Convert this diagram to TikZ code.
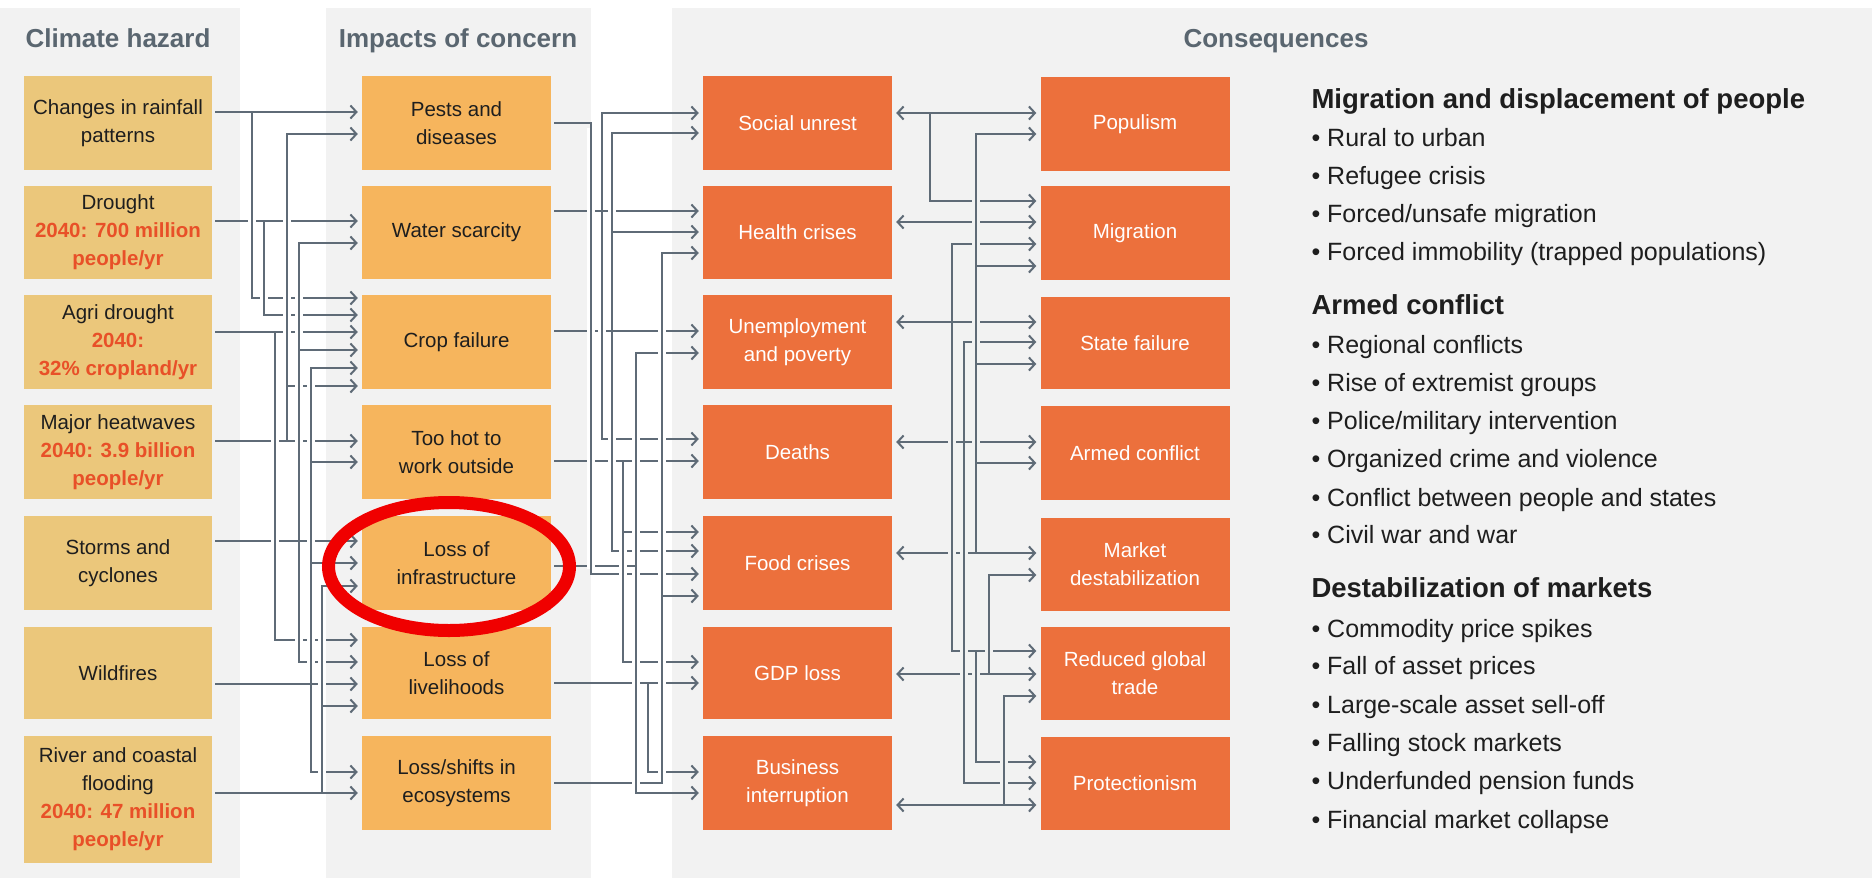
\documentclass[tikz,border=0pt]{standalone}
\usepackage{fontspec}
\setmainfont{Liberation Sans}
\usetikzlibrary{arrows.meta}
\definecolor{wirec}{HTML}{5F6B77}
\definecolor{panel}{HTML}{F2F2F2}
\definecolor{hazc}{HTML}{EBC77B}
\definecolor{impc}{HTML}{F6B55D}
\definecolor{conc}{HTML}{EC703C}
\definecolor{redtxt}{HTML}{E85028}
\definecolor{titlec}{HTML}{5A6670}
\definecolor{ringc}{HTML}{F00000}
\definecolor{bodytxt}{HTML}{1E1E1E}
\newcommand\hl[1]{{\color{redtxt}\bfseries #1}}
\newcommand\cutlane[3]{\foreach \ya/\yb in {#3}{\draw[halo=#1] (#2,\ya) -- (#2,\yb); \draw[wire] (#2,\ya) -- (#2,\yb);}}
\tikzset{
  box/.style={rectangle, inner sep=0pt, align=center, font=\fontsize{20.5}{28}\selectfont},
  haz/.style={box, fill=hazc, text=bodytxt, minimum width=188pt, minimum height=#1},
  haz/.default=94pt,
  imp/.style={box, fill=impc, text=bodytxt, minimum width=189pt, minimum height=#1},
  imp/.default=94pt,
  con/.style={box, fill=conc, text=white, minimum width=189pt, minimum height=#1},
  con/.default=94pt,
  coltitle/.style={anchor=base, text=titlec, font=\fontsize{26}{30}\selectfont\bfseries},
  listhead/.style={anchor=base west, text=bodytxt, font=\fontsize{27.5}{32}\selectfont\bfseries},
  listitem/.style={anchor=base west, text=bodytxt, font=\fontsize{25}{30}\selectfont},
  wire/.style={draw=wirec, line width=2pt},
  arr/.style={wire, -{Straight Barb[length=6pt,width=13pt]}, shorten <=3pt, shorten >=4pt},
  br/.style={arr, shorten <=14pt},
  darr/.style={wire, {Straight Barb[length=6pt,width=13pt]}-{Straight Barb[length=6pt,width=13pt]}, shorten <=4pt, shorten >=4pt},
  halo/.style={draw=#1, line width=8pt, shorten <=5pt, shorten >=5pt},
}
\begin{document}
\begin{tikzpicture}[x=1pt,y=-1pt]
\useasboundingbox (0,0) rectangle (1872,878);
\fill[white] (0,0) rectangle (1872,878);
% panels
\fill[panel] (0,8) rectangle (240,878);
\fill[panel] (326,8) rectangle (591,878);
\fill[panel] (672,8) rectangle (1872,878);
% titles
\node[coltitle] (t1) at (118,47.5) {Climate hazard};
\node[coltitle] (t2) at (458,47.5) {Impacts of concern};
\node[coltitle] (t3) at (1276,47.5) {Consequences};
% hazards
\node[haz] (h1) at (118,123) {Changes in rainfall\\patterns};
\node[haz=93pt] (h2) at (118,232.5) {Drought\\\hl{2040: 700 million}\\\hl{people/yr}};
\node[haz] (h3) at (118,342) {Agri drought\\\hl{2040:}\\\hl{32\% cropland/yr}};
\node[haz] (h4) at (118,452) {Major heatwaves\\\hl{2040: 3.9 billion}\\\hl{people/yr}};
\node[haz] (h5) at (118,563) {Storms and\\cyclones};
\node[haz=92pt] (h6) at (118,673) {Wildfires};
\node[haz=127pt] (h7) at (118,799.5) {River and coastal\\flooding\\\hl{2040: 47 million}\\\hl{people/yr}};
% impacts
\node[imp] (i1) at (456.5,123) {Pests and\\diseases};
\node[imp=93pt] (i2) at (456.5,232.5) {Water scarcity};
\node[imp] (i3) at (456.5,342) {Crop failure};
\node[imp] (i4) at (456.5,452) {Too hot to\\work outside};
\node[imp] (i5) at (456.5,563) {Loss of\\infrastructure};
\node[imp=92pt] (i6) at (456.5,673) {Loss of\\livelihoods};
\node[imp] (i7) at (456.5,783) {Loss/shifts in\\ecosystems};
% consequences, first column
\node[con] (c1) at (797.5,123) {Social unrest};
\node[con=93pt] (c2) at (797.5,232.5) {Health crises};
\node[con] (c3) at (797.5,342) {Unemployment\\and poverty};
\node[con] (c4) at (797.5,452) {Deaths};
\node[con] (c5) at (797.5,563) {Food crises};
\node[con=92pt] (c6) at (797.5,673) {GDP loss};
\node[con] (c7) at (797.5,783) {Business\\interruption};
% consequences, second column
\node[con] (d1) at (1135,124) {Populism};
\node[con] (d2) at (1135,233) {Migration};
\node[con=92pt] (d3) at (1135,343) {State failure};
\node[con] (d4) at (1135,453) {Armed conflict};
\node[con=93pt] (d5) at (1135,564.5) {Market\\destabilization};
\node[con=93pt] (d6) at (1135,673.5) {Reduced global\\trade};
\node[con=93pt] (d7) at (1135,783.5) {Protectionism};
% ---- hazards -> impacts
\draw[arr] (h1.east |- 0,112) -- (i1.west |- 0,112);
\draw[arr] (h1.east |- 0,112) -| (252,298) -- (i3.west |- 0,298);
\draw[arr] (h2.east |- 0,221) -- (i2.west |- 0,221);
\draw[arr] (h2.east |- 0,221) -| (264,315) -- (i3.west |- 0,315);
\draw[arr] (h3.east |- 0,332) -- (i3.west |- 0,332);
\draw[arr] (h3.east |- 0,332) -| (275,640) -- (i6.west |- 0,640);
\draw[arr] (h4.east |- 0,441) -- (i4.west |- 0,441);
\draw[arr] (h4.east |- 0,441) -| (287,134) -- (i1.west |- 0,134);
\draw[arr] (h4.east |- 0,441) -| (287,386) -- (i3.west |- 0,386);
\draw[arr] (h5.east |- 0,541) -- (i5.west |- 0,541);
\draw[arr] (h5.east |- 0,541) -| (299,243) -- (i2.west |- 0,243);
\draw[arr] (h5.east |- 0,541) -| (299,350) -- (i3.west |- 0,350);
\draw[arr] (h5.east |- 0,541) -| (299,662) -- (i6.west |- 0,662);
\draw[arr] (h6.east |- 0,684) -- (i6.west |- 0,684);
\draw[arr] (h6.east |- 0,684) -| (311,368) -- (i3.west |- 0,368);
\draw[arr] (h6.east |- 0,684) -| (311,462) -- (i4.west |- 0,462);
\draw[arr] (h6.east |- 0,684) -| (311,563) -- (i5.west |- 0,563);
\draw[arr] (h6.east |- 0,684) -| (311,772) -- (i7.west |- 0,772);
\draw[arr] (h7.east |- 0,793) -- (i7.west |- 0,793);
\draw[arr] (h7.east |- 0,793) -| (322,586) -- (i5.west |- 0,586);
\draw[arr] (h7.east |- 0,793) -| (322,706) -- (i6.west |- 0,706);
% ---- impacts -> consequences
\draw[arr] (i1.east |- 0,123) -| (591,574) -- (c5.west |- 0,574);
\draw[arr] (i2.east |- 0,211) -- (c2.west |- 0,211);
\draw[arr] (i2.east |- 0,211) -| (602,113) -- (c1.west |- 0,113);
\draw[arr] (i2.east |- 0,211) -| (602,439) -- (c4.west |- 0,439);
\draw[arr] (i3.east |- 0,331) -- (c3.west |- 0,331);
\draw[arr] (i3.east |- 0,331) -| (612,133) -- (c1.west |- 0,133);
\draw[arr] (i3.east |- 0,331) -| (612,232) -- (c2.west |- 0,232);
\draw[arr] (i3.east |- 0,331) -| (612,551) -- (c5.west |- 0,551);
\draw[arr] (i4.east |- 0,461) -- (c4.west |- 0,461);
\draw[arr] (i4.east |- 0,461) -| (623,532) -- (c5.west |- 0,532);
\draw[arr] (i4.east |- 0,461) -| (623,662) -- (c6.west |- 0,662);
\draw[arr] (i5.east |- 0,566) -| (636,353) -- (c3.west |- 0,353);
\draw[arr] (i5.east |- 0,566) -| (636,793) -- (c7.west |- 0,793);
\draw[arr] (i6.east |- 0,683) -- (c6.west |- 0,683);
\draw[arr] (i6.east |- 0,683) -| (648,772) -- (c7.west |- 0,772);
\draw[arr] (i7.east |- 0,783) -| (662,253) -- (c2.west |- 0,253);
\draw[arr] (i7.east |- 0,783) -| (662,596) -- (c5.west |- 0,596);
% ---- consequences <-> consequences
\draw[darr] (c1.east |- 0,113) -- (d1.west |- 0,113);
\draw[darr] (c2.east |- 0,222) -- (d2.west |- 0,222);
\draw[darr] (c3.east |- 0,322) -- (d3.west |- 0,322);
\draw[darr] (c4.east |- 0,442) -- (d4.west |- 0,442);
\draw[darr] (c5.east |- 0,553) -- (d5.west |- 0,553);
\draw[darr] (c6.east |- 0,674) -- (d6.west |- 0,674);
\draw[darr] (c7.east |- 0,805) -- (d7.west |- 0,805);
\draw[br] (c1.east |- 0,113) -| (930,201) -- (d2.west |- 0,201);
\draw[br] (c3.east |- 0,322) -| (952,244) -- (d2.west |- 0,244);
\draw[br] (c3.east |- 0,322) -| (952,651) -- (d6.west |- 0,651);
\draw[br] (c3.east |- 0,322) -| (952,651) -| (976,762) -- (d7.west |- 0,762);
\draw[br] (c4.east |- 0,442) -| (964,342) -- (d3.west |- 0,342);
\draw[br] (c4.east |- 0,442) -| (964,783) -- (d7.west |- 0,783);
\draw[br] (c5.east |- 0,553) -| (976,134) -- (d1.west |- 0,134);
\draw[br] (c5.east |- 0,553) -| (976,266) -- (d2.west |- 0,266);
\draw[br] (c5.east |- 0,553) -| (976,364) -- (d3.west |- 0,364);
\draw[br] (c5.east |- 0,553) -| (976,463) -- (d4.west |- 0,463);
\draw[br] (c6.east |- 0,674) -| (989,575) -- (d5.west |- 0,575);
\draw[br] (c7.east |- 0,805) -| (1004,696) -- (d6.west |- 0,696);
% ---- crossing gaps (vertical runs drawn over the horizontals)
\cutlane{white}{252}{112/298}
\cutlane{white}{264}{221/315}
\cutlane{white}{275}{332/640}
\cutlane{white}{287}{134/386,386/441}
\cutlane{white}{299}{243/350,350/541,541/662}
\cutlane{white}{311}{368/462,462/563,563/684,684/772}
\cutlane{white}{322}{586/706,706/793}
\cutlane{white}{591}{123/574}
\cutlane{white}{602}{113/211,211/439}
\cutlane{white}{612}{133/232,232/331,331/551}
\cutlane{white}{623}{461/532,532/662}
\cutlane{white}{636}{353/566,566/793}
\cutlane{white}{648}{683/772}
\cutlane{white}{662}{253/596,596/783}
\cutlane{panel}{930}{113/201}
\cutlane{panel}{952}{244/322,322/651}
\cutlane{panel}{964}{342/442,442/783}
\cutlane{panel}{976}{134/266,266/364,364/463,463/553}
\cutlane{panel}{976}{651/762}
\cutlane{panel}{989}{575/674}
\cutlane{panel}{1004}{696/805}
% ---- highlight ring
\draw[ringc, line width=13pt] (449,566.5) ellipse [x radius=120.5, y radius=64];
% ---- right-hand list
\node[listhead] (m0) at (1308,108) {Migration and displacement of people};
\node[listitem] (m1) at (1308,146) {• Rural to urban};
\node[listitem] (m2) at (1308,184) {• Refugee crisis};
\node[listitem] (m3) at (1308,222) {• Forced/unsafe migration};
\node[listitem] (m4) at (1308,260) {• Forced immobility (trapped populations)};
\node[listhead] (a0) at (1308,314) {Armed conflict};
\node[listitem] (a1) at (1308,353) {• Regional conflicts};
\node[listitem] (a2) at (1308,391) {• Rise of extremist groups};
\node[listitem] (a3) at (1308,429) {• Police/military intervention};
\node[listitem] (a4) at (1308,467) {• Organized crime and violence};
\node[listitem] (a5) at (1308,506) {• Conflict between people and states};
\node[listitem] (a6) at (1308,543) {• Civil war and war};
\node[listhead] (k0) at (1308,597) {Destabilization of markets};
\node[listitem] (k1) at (1308,637) {• Commodity price spikes};
\node[listitem] (k2) at (1308,674) {• Fall of asset prices};
\node[listitem] (k3) at (1308,713) {• Large-scale asset sell-off};
\node[listitem] (k4) at (1308,751) {• Falling stock markets};
\node[listitem] (k5) at (1308,789) {• Underfunded pension funds};
\node[listitem] (k6) at (1308,828) {• Financial market collapse};
\end{tikzpicture}
\end{document}
